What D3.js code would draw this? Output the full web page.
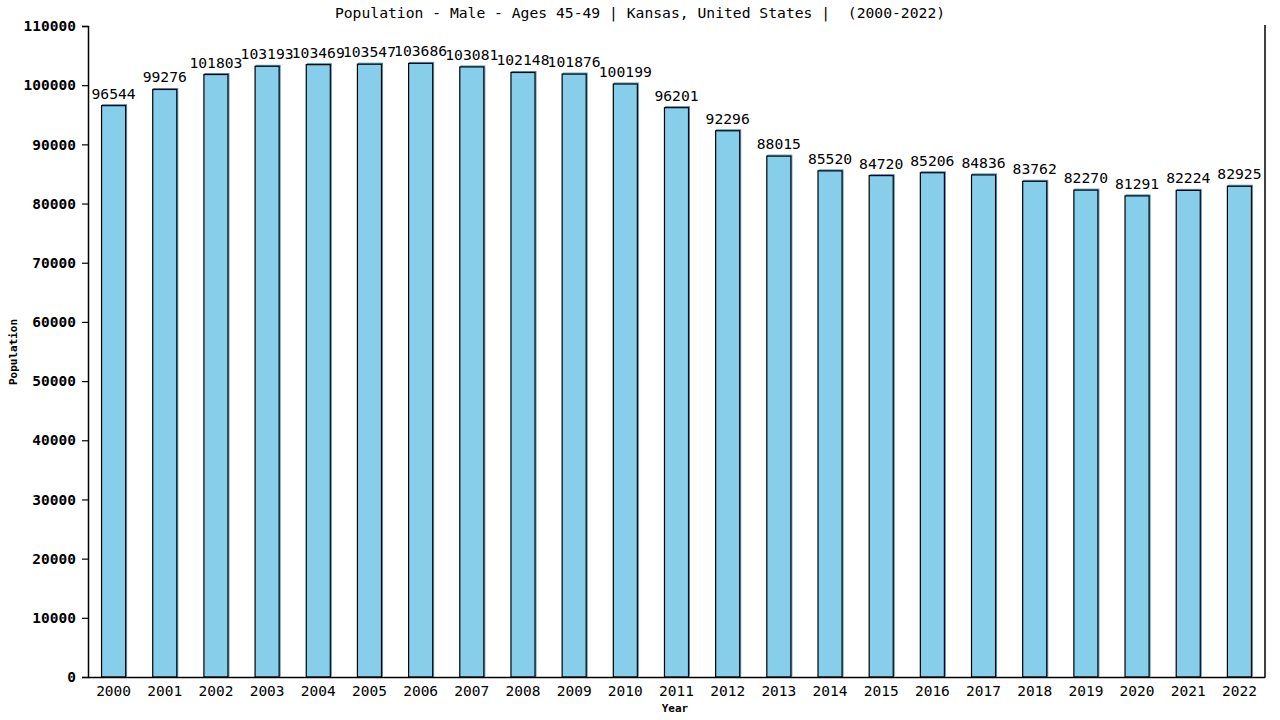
<!DOCTYPE html>
<html>
<head>
<meta charset="utf-8">
<script src="https://cdn.jsdelivr.net/npm/d3@7"></script>
<style>
  body { margin: 0; background: #fff; }
  text { font-family: "DejaVu Sans Mono", monospace; }
</style>
</head>
<body>
<div id="chart"></div>
<script>
// data
const years = ['2000', '2001', '2002', '2003', '2004', '2005', '2006', '2007', '2008', '2009', '2010', '2011',
  '2012', '2013', '2014', '2015', '2016', '2017', '2018', '2019', '2020', '2021', '2022']
const population = [96544, 99276, 101803, 103193, 103469, 103547, 103686, 103081, 102148, 101876, 100199, 96201,
  92296, 88015, 85520, 84720, 85206, 84836, 83762, 82270, 81291, 82224, 82925]
const yTicks = [0, 10000, 20000, 30000, 40000, 50000, 60000, 70000, 80000, 90000, 100000, 110000]

const width = 1280
const height = 720
const margin = { top: 26, right: 15, bottom: 43, left: 88 }

const svg = d3.select('#chart')
  .append('svg')
    .attr('width', width)
    .attr('height', height)

const x = d3.scaleBand()
  .domain(years)
  .range([margin.left, width - margin.right])
  .paddingInner(0.53)
  .paddingOuter(0.265)

const y = d3.scaleLinear()
  .domain([0, 110000])
  .range([height - margin.bottom, margin.top])

// title (keeps the double space)
svg.append('text')
  .attr('x', 640)
  .attr('y', 18)
  .attr('text-anchor', 'middle')
  .attr('font-size', 14.7)
  .style('white-space', 'pre')
  .text('Population - Male - Ages 45-49 | Kansas, United States |  (2000-2022)')

// bars: offset blue shadow + black outline
const bars = svg.append('g').selectAll('g')
  .data(years)
  .join('g')

bars.append('rect')
  .attr('x', d => x(d) + 1)
  .attr('y', (d, i) => y(population[i]) - 1)
  .attr('width', x.bandwidth())
  .attr('height', (d, i) => y(0) - y(population[i]))
  .attr('fill', '#87ceeb')
  .attr('stroke', '#4f93c0')
  .attr('stroke-width', 1)

bars.append('rect')
  .attr('x', d => x(d))
  .attr('y', (d, i) => y(population[i]))
  .attr('width', x.bandwidth())
  .attr('height', (d, i) => y(0) - y(population[i]))
  .attr('fill', '#87ceeb')
  .attr('stroke', '#000')
  .attr('stroke-width', 1.2)

bars.append('text')
  .attr('x', d => x(d) + x.bandwidth() / 2)
  .attr('y', (d, i) => y(population[i]) - 7)
  .attr('text-anchor', 'middle')
  .attr('font-size', 14.7)
  .text((d, i) => population[i])

// y axis
const yAxis = svg.append('g')
  .attr('transform', `translate(${margin.left},0)`)
  .call(d3.axisLeft(y).tickValues(yTicks).tickSize(6).tickPadding(6).tickFormat(d3.format('d')))
yAxis.select('.domain').attr('stroke', '#000').attr('stroke-width', 1.5)
yAxis.selectAll('.tick line').attr('stroke-width', 1.2)
yAxis.selectAll('.tick text')
  .attr('font-family', '"DejaVu Sans Mono", monospace')
  .attr('font-size', 14.5)
  .attr('font-weight', 'bold')
  .attr('fill', '#000')

// x axis
const xAxis = svg.append('g')
  .attr('transform', `translate(0,${height - margin.bottom})`)
  .call(d3.axisBottom(x).tickSize(0).tickPadding(9))
xAxis.select('.domain').attr('stroke', '#000').attr('stroke-width', 1.5)
xAxis.selectAll('.tick text')
  .attr('font-family', '"DejaVu Sans Mono", monospace')
  .attr('font-size', 14.5)
  .attr('fill', '#000')

// right border
svg.append('line')
  .attr('x1', width - margin.right)
  .attr('x2', width - margin.right)
  .attr('y1', margin.top - 1)
  .attr('y2', height - margin.bottom)
  .attr('stroke', '#000')
  .attr('stroke-width', 1.5)

// axis titles
svg.append('text')
  .attr('x', 675)
  .attr('y', 712)
  .attr('text-anchor', 'middle')
  .attr('font-size', 11)
  .attr('font-weight', 'bold')
  .text('Year')

svg.append('text')
  .attr('transform', 'translate(17,352) rotate(-90)')
  .attr('text-anchor', 'middle')
  .attr('font-size', 11)
  .attr('font-weight', 'bold')
  .text('Population')
</script>
</body>
</html>
